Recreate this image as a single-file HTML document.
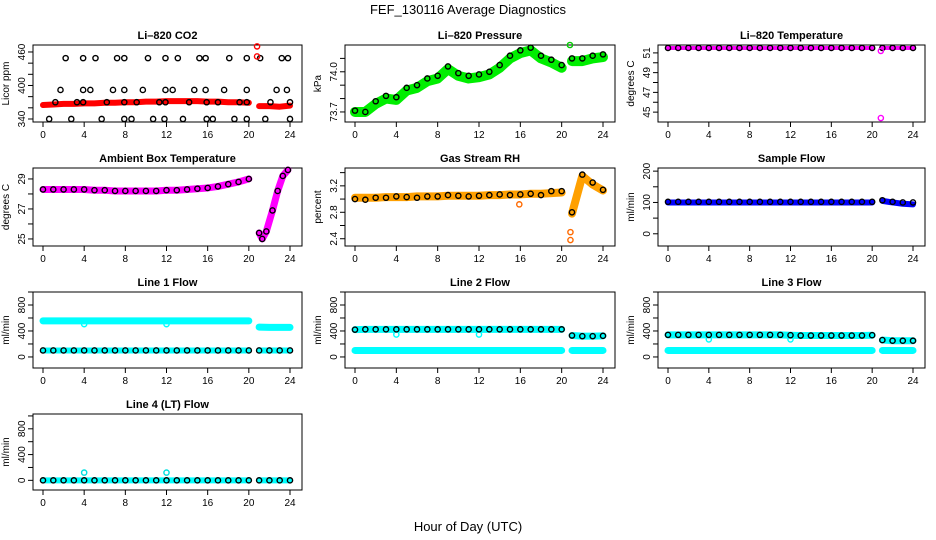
<!DOCTYPE html>
<html><head><meta charset="utf-8"><style>
html,body{margin:0;padding:0;background:#fff;}
svg{display:block;font-family:"Liberation Sans",Arial,sans-serif;}
</style></head><body>
<svg id="chart" width="936" height="540" viewBox="0 0 936 540">
<text x="468" y="14" text-anchor="middle" font-size="13">FEF_130116  Average Diagnostics</text>
<text x="468" y="531" text-anchor="middle" font-size="13">Hour of Day (UTC)</text>
</svg>
<script>
// shared hours
const H = [0,1,2,3,4,5,6,7,8,9,10,11,12,13,14,15,16,17,18,19,20,21,22,23,24];
const xTicks = [0,4,8,12,16,20,24];
// CO2
const co2Band = [365,366,367,367,368,368,369,369,370,370,371,371,372,372,372,372,371,371,370,370,369,363,363,362,364];
const co2PtH = [0.6,2.75,5.7,7.9,8.6,10.7,11.8,13.6,15.9,16.5,18.6,19.8,21.6,24.0,
 1.2,3.3,3.9,6.2,7.9,9.1,11.3,11.9,14.2,15.9,17.0,19.1,19.8,22.1,24.0,
 1.7,3.9,4.6,6.8,7.9,9.7,11.9,12.6,14.7,15.8,17.6,19.8,22.7,23.7,
 2.2,3.9,5.1,7.2,7.9,10.2,11.9,13.1,15.2,15.8,18.1,19.8,21.1,23.2,23.8];
const co2PtV = [340,340,340,340,340,340,340,340,340,340,340,340,340,340,
 370,370,370,370,370,370,370,370,370,370,370,370,370,370,370,
 392,392,392,392,392,392,392,392,392,392,392,392,392,392,
 449,449,449,449,449,449,449,449,449,449,449,449,449,449,449];
const co2OutH = [20.8,20.8];
const co2OutV = [470,452];
// Pressure
const presBand = [73.70,73.70,73.76,73.80,73.79,73.86,73.88,73.93,73.95,74.02,73.97,73.95,73.96,73.98,74.03,74.10,74.14,74.16,74.10,74.07,74.03,74.08,74.08,74.10,74.11];
const presPt = [73.71,73.70,73.78,73.82,73.81,73.88,73.90,73.95,73.97,74.04,73.99,73.97,73.98,74.00,74.05,74.12,74.16,74.18,74.12,74.09,74.05,74.10,74.10,74.12,74.13];
// Li-820 temperature
const litBand = [51.5,51.5,51.5,51.5,51.5,51.5,51.5,51.5,51.5,51.5,51.5,51.5,51.5,51.5,51.5,51.5,51.5,51.5,51.5,51.5,51.5,51.5,51.5,51.5,51.5];
const litOutH = [20.85,20.85];
const litOutV = [51.2,44.4];
// Ambient box temperature
const ambH = [0,1,2,3,4,5,6,7,8,9,10,11,12,13,14,15,16,17,18,19,20,21,21.3,21.7,22.3,22.8,23.3,23.8];
const ambV = [28.3,28.3,28.3,28.3,28.3,28.25,28.25,28.2,28.2,28.2,28.2,28.2,28.25,28.25,28.3,28.35,28.4,28.5,28.65,28.8,29.0,25.4,25.0,25.5,26.9,28.2,29.2,29.6];
// Gas stream RH
const rhBand = [3.02,3.02,3.02,3.03,3.03,3.03,3.04,3.04,3.04,3.05,3.05,3.05,3.05,3.06,3.06,3.07,3.07,3.08,3.08,3.09,3.10,2.78,3.35,3.22,3.13];
const rhPt = [3.00,2.99,3.02,3.02,3.04,3.03,3.02,3.04,3.04,3.06,3.05,3.04,3.05,3.06,3.07,3.06,3.07,3.08,3.06,3.12,3.12,2.80,3.37,3.25,3.14];
const rhOutH = [15.9,20.85,20.85];
const rhOutV = [2.92,2.50,2.38];
// Sample flow
const sampBand = [100,100,100,100,100,100,100,100,100,100,100,100,100,100,100,100,100,100,100,100,100,105,100,96,94];
const sampPt = [102,102,102,102,102,102,102,102,102,102,102,102,102,102,102,102,102,102,102,102,102,107,102,100,100];
// Line flows
const l1Hi = [555,555,555,555,555,555,555,555,555,555,555,555,555,555,555,555,555,555,555,555,555,460,455,455,455];
const l1Lo = [100,100,100,100,100,100,100,100,100,100,100,100,100,100,100,100,100,100,100,100,100,100,100,100,100];
const l1DipH = [4,12];
const l1DipV = [505,505];
const l2Hi = [420,425,425,425,425,425,425,425,425,425,425,425,425,425,425,425,425,425,425,425,425,330,320,320,325];
const l2Lo = [100,100,100,100,100,100,100,100,100,100,100,100,100,100,100,100,100,100,100,100,100,100,100,100,100];
const l2DipH = [4,12];
const l2DipV = [345,345];
const l3Hi = [340,340,340,340,340,340,340,340,340,340,340,340,335,330,330,330,330,330,330,330,335,260,250,250,250];
const l3Lo = [100,100,100,100,100,100,100,100,100,100,100,100,100,100,100,100,100,100,100,100,100,100,100,100,100];
const l3DipH = [4,12];
const l3DipV = [270,270];
const l4V = [0,0,0,0,0,0,0,0,0,0,0,0,0,0,0,0,0,0,0,0,0,0,0,0,0];
const l4OutH = [4,12];
const l4OutV = [120,120];

const svg = document.getElementById('chart');
const NS = 'http://www.w3.org/2000/svg';
const X0 = [43,355,668], X24 = [290,603,913];
const ROWS = [[45,122],[168,246],[292,368],[414,490]];
function mk(tag, attrs, parent){const e=document.createElementNS(NS,tag);for(const k in attrs)e.setAttribute(k,attrs[k]);(parent||svg).appendChild(e);return e;}

function panel(name, title, ylab, col, row, dom, ticks, labels, dec){
  const g = mk('g',{});
  
  
  const top=ROWS[row][0], bot=ROWS[row][1];
  const left=X0[col]-10, right=X24[col]+12;
  const p = {g, col, top, bot, left, right,
    x: h => X0[col] + h*(X24[col]-X0[col])/24,
    y: v => top + (dom[0]-v)/(dom[0]-dom[1])*(bot-top)};
  const box = mk('rect',{x:left,y:top,width:right-left,height:bot-top,fill:'none',stroke:'#000','stroke-width':1},g);
  
  
  const t = mk('text',{x:(left+right)/2,y:top-6,'text-anchor':'middle','font-size':11,'font-weight':'bold'},g);
  t.textContent = title;
  
  
  const yl = mk('text',{transform:`translate(${left-24},${(top+bot)/2}) rotate(-90)`,'text-anchor':'middle','font-size':10},g);
  yl.textContent = ylab;
  
  
  mk('line',{x1:left,x2:left,y1:p.y(ticks[0]),y2:p.y(ticks[ticks.length-1]),stroke:'#000'},g);
  ticks.forEach(v=>{
    mk('line',{x1:left-5,x2:left,y1:p.y(v),y2:p.y(v),stroke:'#000'},g);
  });
  labels.forEach(v=>{
    const tl = mk('text',{transform:`translate(${left-8},${p.y(v)}) rotate(-90)`,'text-anchor':'middle','font-size':10},g);
    tl.textContent = v.toFixed(dec||0);
    
    
  });
  mk('line',{x1:p.x(0),x2:p.x(24),y1:bot,y2:bot,stroke:'#000'},g);
  xTicks.forEach(h=>{
    mk('line',{x1:p.x(h),x2:p.x(h),y1:bot,y2:bot+5,stroke:'#000'},g);
    const tl = mk('text',{x:p.x(h),y:bot+16,'text-anchor':'middle','font-size':10},g);
    tl.textContent = String(h);
    
    
  });
  return p;
}
function band(p, hs, vs, color, w, name){
  let segs=[[]];
  hs.forEach((h,i)=>{ if(i>0 && hs[i-1]<=20 && h>20) segs.push([]); segs[segs.length-1].push([p.x(h),p.y(vs[i])]); });
  segs.forEach(s=>{
    const pl = mk('polyline',{points:s.map(q=>q.join(',')).join(' '),fill:'none',stroke:color,'stroke-width':w,'stroke-linejoin':'round','stroke-linecap':'round'},p.g);
    
    
  });
}
function pts(p, hs, vs, color, name, r){
  hs.forEach((h,i)=>{
    const c = mk('circle',{cx:p.x(h),cy:p.y(vs[i]),r:r||2.6,fill:'none',stroke:color,'stroke-width':1.4},p.g);
    
    
  });
}

let p;
p = panel('co2-panel','Li\u2013820 CO2','Licor ppm',0,0,[472.5,334.6],[340,360,380,400,420,440,460],[340,400,460]);
band(p,H,co2Band,'#ff0000',6,'co2-band');
pts(p,co2PtH,co2PtV,'#000','co2-point');
pts(p,co2OutH,co2OutV,'#ff0000','co2-outlier');

p = panel('pressure-panel','Li\u2013820 Pressure','kPa',1,0,[74.2,73.625],[73.7,73.8,73.9,74.0,74.1],[73.7,74.0],1);
band(p,H,presBand,'#00ee00',10,'pressure-band');
pts(p,H,presPt,'#000','pressure-point');
pts(p,[20.8],[74.2],'#00cc00','pressure-outlier');

p = panel('li820-temp-panel','Li\u2013820 Temperature','degrees C',2,0,[51.8,44.0],[45,46,47,48,49,50,51],[45,47,49,51]);
band(p,H,litBand,'#ff00ff',4,'li820-temp-band');
pts(p,H,litBand,'#000','li820-temp-point');
pts(p,litOutH,litOutV,'#ff00ff','li820-temp-outlier');

p = panel('ambient-temp-panel','Ambient Box Temperature','degrees C',0,1,[29.73,24.53],[25,26,27,28,29],[25,27,29]);
band(p,ambH,ambV,'#ff00ff',7,'ambient-temp-band');
pts(p,ambH,ambV,'#000','ambient-temp-point');

p = panel('rh-panel','Gas Stream RH','percent',1,1,[3.47,2.29],[2.4,2.6,2.8,3.0,3.2,3.4],[2.4,2.8,3.2],1);
band(p,H,rhBand,'#ffa000',8,'rh-band');
pts(p,H,rhPt,'#000','rh-point');
pts(p,rhOutH,rhOutV,'#ff6a00','rh-outlier');

p = panel('sample-flow-panel','Sample Flow','ml/min',2,1,[210,-39],[0,50,100,150,200],[0,100,200]);
band(p,H,sampBand,'#0000ff',6,'sample-flow-band');
pts(p,H,sampPt,'#000','sample-flow-point');

const flowTicks=[0,200,400,600,800,1000], flowLabels=[0,400,800];
p = panel('line1-flow-panel','Line 1 Flow','ml/min',0,2,[1000,-170],flowTicks,flowLabels);
band(p,H,l1Hi,'#00ffff',7,'line1-high-band');
band(p,H,l1Lo,'#00ffff',6,'line1-low-band');
pts(p,l1DipH,l1DipV,'#00ffff','line1-dip');
pts(p,H,l1Lo,'#000','line1-point');

p = panel('line2-flow-panel','Line 2 Flow','ml/min',1,2,[1000,-170],flowTicks,flowLabels);
band(p,H,l2Hi,'#00ffff',7,'line2-high-band');
band(p,H,l2Lo,'#00ffff',7,'line2-low-band');
pts(p,l2DipH,l2DipV,'#00ffff','line2-dip');
pts(p,H,l2Hi,'#000','line2-point');

p = panel('line3-flow-panel','Line 3 Flow','ml/min',2,2,[1000,-170],flowTicks,flowLabels);
band(p,H,l3Hi,'#00ffff',7,'line3-high-band');
band(p,H,l3Lo,'#00ffff',7,'line3-low-band');
pts(p,l3DipH,l3DipV,'#00ffff','line3-dip');
pts(p,H,l3Hi,'#000','line3-point');

p = panel('line4-flow-panel','Line 4 (LT) Flow','ml/min',0,3,[1030,-150],flowTicks,flowLabels);
band(p,H,l4V,'#00ffff',6,'line4-band');
pts(p,H,l4V,'#000','line4-point');
pts(p,l4OutH,l4OutV,'#00e0e0','line4-outlier');
</script>
</body></html>
